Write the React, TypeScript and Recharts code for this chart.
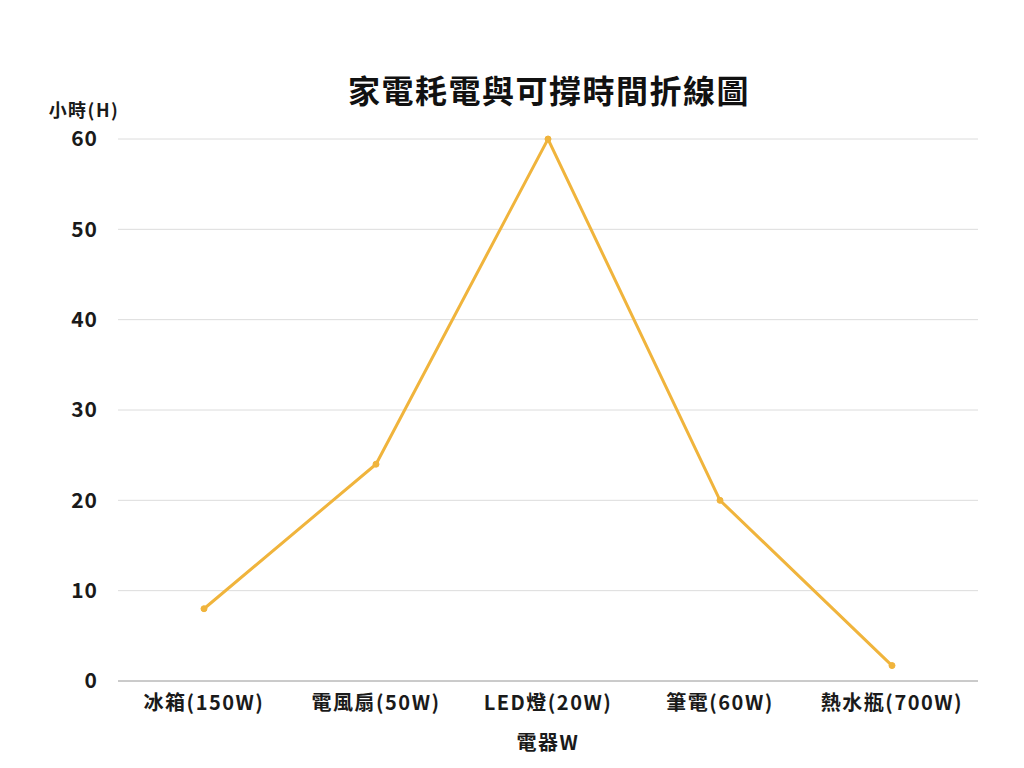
import React from 'react';
import { LineChart, Line, XAxis, YAxis, CartesianGrid } from 'recharts';

const appliances = ['冰箱(150W)', '電風扇(50W)', 'LED燈(20W)', '筆電(60W)', '熱水瓶(700W)'];
const hours = [8, 24, 60, 20, 1.71];
const yTicks = [0, 10, 20, 30, 40, 50, 60];

const data = appliances.map((name, i) => ({ name, hours: hours[i] }));

const FONT = '"Noto Sans CJK TC", "Noto Sans", sans-serif';

export default function App() {
  return (
    <div style={{ position: 'absolute', left: 0, top: 0, width: 1024, height: 768, background: '#fff', fontFamily: FONT }}>
      <div style={{
        position: 'absolute', left: 118, width: 862, top: 66, textAlign: 'center',
        fontSize: 32, fontWeight: 700, color: '#111', letterSpacing: 1.5,
      }}>
        家電耗電與可撐時間折線圖
      </div>
      <LineChart width={1024} height={768} data={data} margin={{ top: 139, right: 46, bottom: 0, left: 0 }}>
        <CartesianGrid vertical={false} stroke="#dcdcdc" />
        <XAxis
          dataKey="name"
          height={87}
          padding={{ left: 86, right: 86 }}
          stroke="#a8a8a8"
          tickLine={false}
          tickSize={0}
          tickMargin={15}
          tick={{ fill: '#1a1a1a', fontSize: 20, fontWeight: 600, fontFamily: FONT, letterSpacing: 1.5 }}
          label={{ value: '電器W', position: 'insideBottom', offset: 18, fill: '#1a1a1a', fontSize: 20, fontWeight: 600, fontFamily: FONT, letterSpacing: 1.5 }}
        />
        <YAxis
          width={118}
          domain={[0, 60]}
          ticks={yTicks}
          axisLine={false}
          tickLine={false}
          tickSize={0}
          tickMargin={20}
          tick={{ fill: '#1a1a1a', fontSize: 21, fontWeight: 600, fontFamily: FONT, letterSpacing: 1 }}
          label={{ value: '小時(H)', position: 'top', offset: 22, dx: 25, fill: '#1a1a1a', fontSize: 18, fontWeight: 600, fontFamily: FONT, letterSpacing: 1.5 }}
        />
        <Line
          type="linear"
          dataKey="hours"
          stroke="#f0b43c"
          strokeWidth={3}
          dot={{ r: 3, fill: '#f0b43c', stroke: '#f0b43c', strokeWidth: 1 }}
          isAnimationActive={false}
        />
      </LineChart>
    </div>
  );
}
